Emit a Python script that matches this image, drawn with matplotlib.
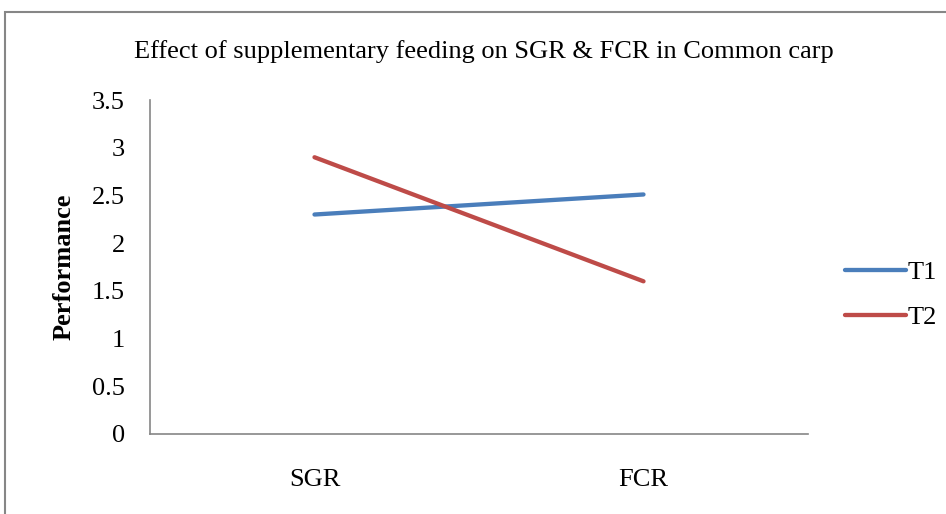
import matplotlib.pyplot as plt
from matplotlib.patches import Rectangle

# data
categories = ['SGR', 'FCR']
t1 = [2.3, 2.51]
t2 = [2.9, 1.6]
yticks = [0, 0.5, 1, 1.5, 2, 2.5, 3, 3.5]

plt.rcParams['font.family'] = ['Liberation Serif', 'DejaVu Serif']

fig = plt.figure(figsize=(9.46, 5.14), dpi=100)
W, H = 946, 514

# outer chart border (right/bottom edges cut off in the reference)
fig.patches.append(Rectangle((5 / W, -0.05), 1.1, 1 - 12 / H + 0.05,
                             transform=fig.transFigure, fill=False,
                             edgecolor='#868686', linewidth=1.5))

ax = fig.add_axes([150 / W, 1 - 434 / H, (808 - 150) / W, (434 - 100) / H])

x = range(len(categories))
ax.plot(x, t1, color='#4A7EBB', linewidth=3.1, label='T1', solid_capstyle='round')
ax.plot(x, t2, color='#BE4B48', linewidth=3.1, label='T2', solid_capstyle='round')

ax.set_xlim(-0.5, 1.5)
ax.set_ylim(0, 3.5)
ax.set_xticks(list(x))
ax.set_xticklabels(categories)
ax.set_yticks(yticks)
ax.set_yticklabels([f'{v:g}' for v in yticks])
ax.tick_params(axis='both', length=0, labelsize=19)
ax.tick_params(axis='y', pad=18)
ax.tick_params(axis='x', pad=25)

for s in ['top', 'right']:
    ax.spines[s].set_visible(False)
for s in ['left', 'bottom']:
    ax.spines[s].set_color('#868686')
    ax.spines[s].set_linewidth(1.2)

ax.set_ylabel('Performance', fontsize=19, fontweight='bold', labelpad=12)

fig.text(484 / W, 1 - 52 / H, 'Effect of supplementary feeding on SGR & FCR in Common carp',
         ha='center', va='center', fontsize=19)

fig.legend(loc='center left', bbox_to_anchor=(845 / W, 1 - 295 / H), frameon=False,
           fontsize=19, handlelength=2.3, handletextpad=0.08, labelspacing=0.8,
           borderpad=0, borderaxespad=0)

fig.savefig('out.png', dpi=100)
